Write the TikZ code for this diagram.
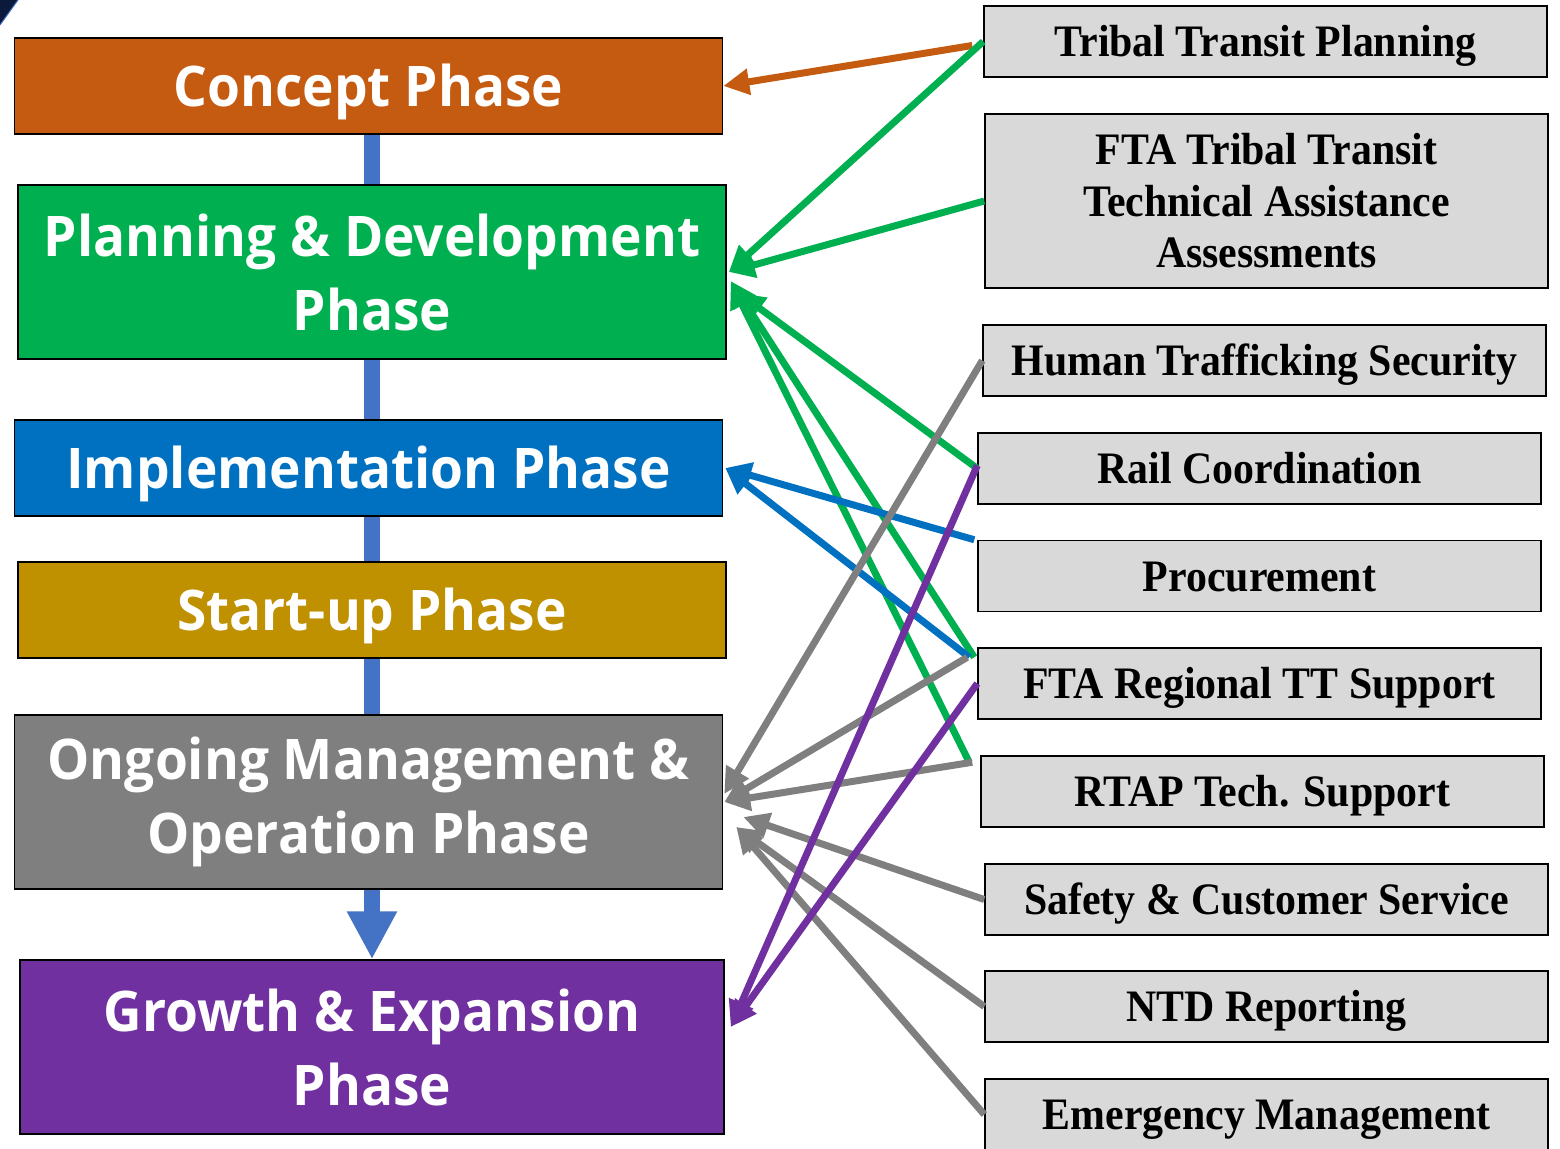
\documentclass[tikz,border=0pt]{standalone}
\usepackage{fontspec}
\newfontfamily\phasefont{Open Sans}[FakeStretch=0.95]
\newfontfamily\aidfont{Liberation Serif}[FakeStretch=0.93]
\usetikzlibrary{arrows.meta}
\usetikzlibrary{backgrounds}

\definecolor{conceptc}{HTML}{C55A11}
\definecolor{planc}{HTML}{00B050}
\definecolor{implc}{HTML}{0070C0}
\definecolor{startc}{HTML}{BF9000}
\definecolor{ongoc}{HTML}{7F7F7F}
\definecolor{growc}{HTML}{7030A0}
\definecolor{flowc}{HTML}{4472C4}
\definecolor{aidgray}{HTML}{D9D9D9}
\definecolor{cornerc}{HTML}{0B1A3A}

\tikzset{
  phasebox/.style={draw=black, line width=1.5pt, text=white, align=center, inner sep=0pt,
    minimum width=708pt, font=\phasefont\bfseries\fontsize{56}{74}\selectfont},
  phase/.style={phasebox, minimum height=96pt, text height=40pt, text depth=0pt},
  phasetall/.style={phasebox, minimum height=174pt},
  aidbox/.style={draw=black, line width=1.5pt, fill=aidgray, align=center, inner sep=0pt,
    minimum width=563pt, font=\aidfont\bfseries\fontsize{45}{51.5}\selectfont},
  aid/.style={aidbox, minimum height=71pt, text height=30pt, text depth=0pt},
  aidtall/.style={aidbox, minimum height=174pt},
  link/.style={line width=7pt, -{Triangle[length=26pt,width=25pt]}},
}

\begin{document}
\begin{tikzpicture}[x=1pt, y=-1pt]
\useasboundingbox (0, 0) rectangle (1560, 1148);
\fill[cornerc] (0, 0) -- (18, 0) -- (0, 25) -- cycle;
\draw[flowc, line width=1pt] (18, 0) -- (0, 25);

\node[phase, fill=conceptc] (concept) at (368.5, 86) {Concept Phase};
\node[phasetall, fill=planc] (planning) at (372, 272) {Planning \& Development\\Phase};
\node[phase, fill=implc] (implement) at (368.5, 468) {Implementation Phase};
\node[phase, fill=startc] (startup) at (372, 610) {Start-up Phase};
\node[phasetall, fill=ongoc] (ongoing) at (368.5, 802) {Ongoing Management \&\\Operation Phase};
\node[phasetall, fill=growc, minimum width=704pt] (growth) at (372, 1047) {Growth \& Expansion\\Phase};

\begin{scope}[on background layer]
\draw[flowc, line width=16pt, -{Triangle[length=48pt,width=47pt]}] (growth.north |- concept.south) -- (growth.north);
\end{scope}

\node[aid] (tribal) at (1265.5, 41.5) {Tribal Transit Planning};
\node[aidtall] (ftatribal) at (1266.5, 201) {FTA Tribal Transit\\Technical Assistance\\Assessments};
\node[aid] (traffic) at (1264.5, 360.5) {Human Trafficking Security};
\node[aid] (rail) at (1259.5, 468.5) {Rail Coordination};
\node[aid] (procure) at (1259.5, 576) {Procurement};
\node[aid] (ftareg) at (1259.5, 683.5) {FTA Regional TT Support};
\node[aid] (rtap) at (1262.5, 791.5) {RTAP Tech. Support};
\node[aid] (safety) at (1266.5, 899.5) {Safety \& Customer Service};
\node[aid] (ntd) at (1266.5, 1006.5) {NTD Reporting};
\node[aid] (emerg) at (1266.5, 1114.5) {Emergency Management};

\draw[link, conceptc] ([shift={(-11, 4)}]tribal.west) -- (concept.east);
\draw[link, planc] (tribal.west) -- ([xshift=2pt]planning.east);
\draw[link, planc] (ftatribal.west) -- ([xshift=2pt]planning.east);
\draw[link, planc] (rail.west) -- ([shift={(12, 21)}]planning.east);
\draw[link, planc] ([shift={(-3, 10)}]ftareg.north west) -- ([shift={(4, 9)}]planning.east);
\draw[link, planc] ([shift={(-11, 7)}]rtap.north west) -- ([shift={(4, 10)}]planning.east);

\draw[link, implc] ([xshift=-3pt]procure.north west) -- ([xshift=2pt]implement.east);
\draw[link, implc] ([shift={(-8, 10)}]ftareg.north west) -- ([xshift=2pt]implement.east);

\draw[link, ongoc] (traffic.west) -- ([shift={(1, -8)}]ongoing.east);
\draw[link, ongoc] ([shift={(-10, 10)}]ftareg.north west) -- ([xshift=1pt]ongoing.east);
\draw[link, ongoc] ([shift={(-8, 7)}]rtap.north west) -- ([xshift=1pt]ongoing.east);
\draw[link, ongoc] (safety.west) -- ([shift={(20, 15)}]ongoing.east);
\draw[link, ongoc] (ntd.west) -- ([shift={(13, 25)}]ongoing.east);
\draw[link, ongoc] (emerg.west) -- ([shift={(13, 25)}]ongoing.east);

\draw[link, growc] ([yshift=3pt]rail.west) -- ([shift={(6, -20)}]growth.east);
\draw[link, growc] (ftareg.west) -- ([shift={(6, -20)}]growth.east);
\end{tikzpicture}
\end{document}
